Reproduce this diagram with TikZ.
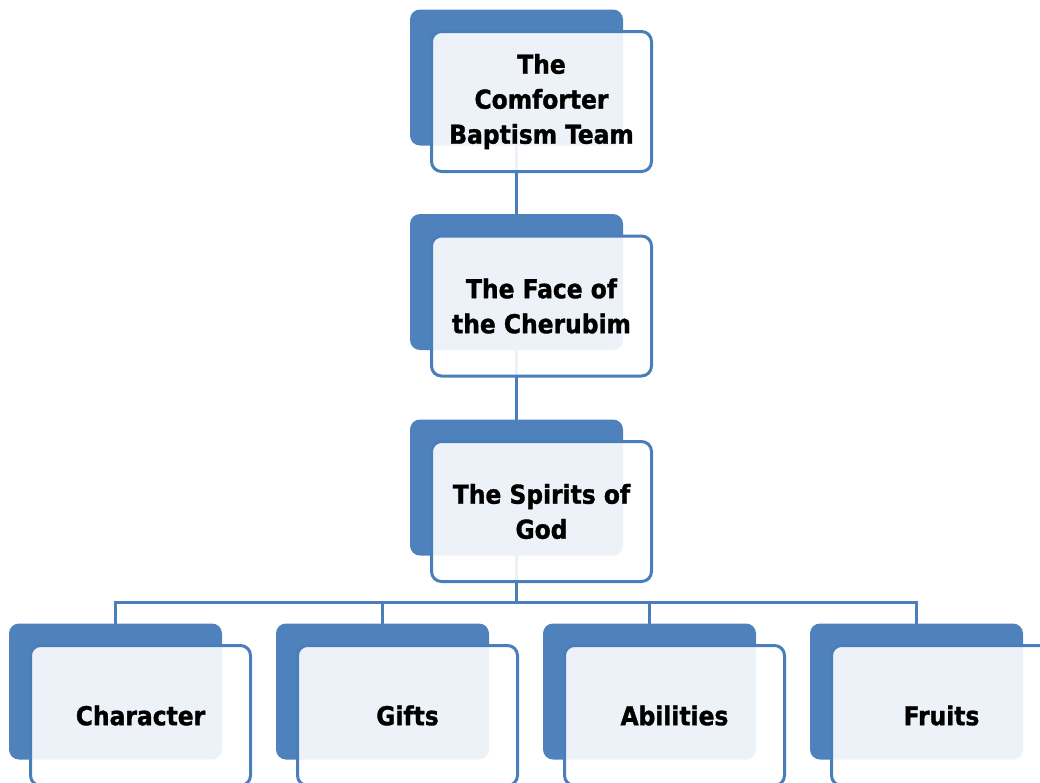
\documentclass[tikz,border=0pt]{standalone}
\usepackage{fontspec}
\setmainfont{DejaVu Sans Condensed}[BoldFeatures={FakeBold=1.3}]
\usetikzlibrary{positioning, backgrounds}

\definecolor{boxblue}{HTML}{4F81BD}
\definecolor{edgeblue}{HTML}{4A7EBB}

\begin{document}
\begin{tikzpicture}[
    x=1pt, y=-1pt,
    backbox/.style={rectangle, rounded corners=10pt, fill=boxblue, minimum width=213pt, minimum height=136pt},
    frontbox/.style={rectangle, rounded corners=10pt, draw=edgeblue, line width=3pt, fill=white, fill opacity=0.9, text opacity=1, minimum width=220pt, minimum height=140pt, align=center, font=\fontsize{26}{35}\selectfont\bfseries},
    link/.style={draw=edgeblue, line width=3pt}
]
\useasboundingbox (0,0) rectangle (1040,782);

% Top of the chart
\node[backbox] (team) at (516.5,77.5) {};
\node[frontbox] (teamf) at ([shift={(25,24)}]team.center) {The\\Comforter\\Baptism Team};

\node[backbox] (face) at (516.5,282) {};
\node[frontbox] (facef) at ([shift={(25,24)}]face.center) {The Face of\\the Cherubim};

\node[backbox] (spirits) at (516.5,487.5) {};
\node[frontbox] (spiritsf) at ([shift={(25,24)}]spirits.center) {The Spirits of\\God};

% Bottom row
\node[backbox] (char) at (115.5,691.5) {};
\node[frontbox] (charf) at ([shift={(25,24)}]char.center) {Character};

\node[backbox] (gifts) at (382.5,691.5) {};
\node[frontbox] (giftsf) at ([shift={(25,24)}]gifts.center) {Gifts};

\node[backbox] (abil) at (649.5,691.5) {};
\node[frontbox] (abilf) at ([shift={(25,24)}]abil.center) {Abilities};

\node[backbox] (fruits) at (916.5,691.5) {};
\node[frontbox] (fruitsf) at ([shift={(25,24)}]fruits.center) {Fruits};

% Connectors
\coordinate (bus) at (516.5,602);
\begin{scope}[on background layer]
\draw[link] (team.center) -- (face.center);
\draw[link] (face.center) -- (spirits.center);
\draw[link] (spirits.center) -- (bus);
\draw[link] (bus) -| (char.center);
\draw[link] (bus) -| (gifts.center);
\draw[link] (bus) -| (abil.center);
\draw[link] (bus) -| (fruits.center);
\end{scope}

\end{tikzpicture}
\end{document}
